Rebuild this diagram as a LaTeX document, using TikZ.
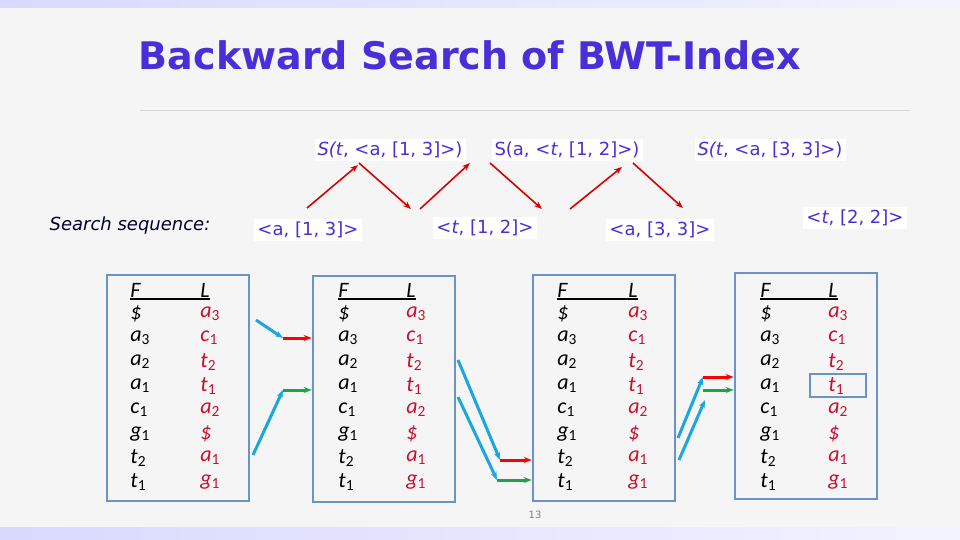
\documentclass[tikz,border=0pt]{standalone}
\usepackage{fontspec}
\setmainfont{Carlito}
\setsansfont{DejaVu Sans}
\usetikzlibrary{arrows.meta,positioning}
\definecolor{titlepurple}{HTML}{4A2FD8}
\definecolor{boxblue}{HTML}{6A93C9}
\definecolor{arrcyan}{HTML}{1AA6E0}
\definecolor{arrgreen}{HTML}{1FA34A}
\definecolor{lred}{HTML}{C8102E}
\newcommand\sym[2]{\textit{#1}\textsubscript{#2}}
\begin{document}
\begin{tikzpicture}[x=0.5pt,y=-0.5pt,>={Stealth[length=4pt]},
    tbl/.style={draw=boxblue,line width=1.3pt,minimum width=71pt,minimum height=113pt},
    ent/.style={font=\fontsize{11}{11}\selectfont,inner sep=0pt},
    lab/.style={fill=white,text=titlepurple,font=\sffamily\fontsize{9}{9}\selectfont,inner sep=1.5pt},
    step arrow/.style={->,draw=red!85!black,line width=0.8pt},
    link/.style={->,line width=1.5pt}]
  \useasboundingbox (0,0) rectangle (960,540);
  \fill[gray!8] (0,0) rectangle (960,540);
  \fill[left color=blue!15,right color=blue!5] (0,0) rectangle (960,8);
  \fill[left color=blue!15,right color=blue!5] (0,527) rectangle (960,540);
  \node[text=titlepurple,font=\sffamily\bfseries\fontsize{19}{20}\selectfont] (title) at (470,55) {Backward Search of BWT-Index};
  \draw[gray!30] (140,110) -- (910,110);
  % search steps
  \node[lab] (s1) at (390,150) {\textit{S(t}, <a, [1, 3]>)};
  \node[lab] (s2) at (567,150) {S(a, <\textit{t}, [1, 2]>)};
  \node[lab] (s3) at (770,150) {\textit{S(t}, <a, [3, 3]>)};
  \node[lab,text=black!80!blue,fill=none] (seq) at (130,226) {\textit{Search sequence:}};
  \node[lab] (i1) at (308,230) {<a, [1, 3]>};
  \node[lab] (i2) at (485,228) {<\textit{t}, [1, 2]>};
  \node[lab] (i3) at (660,230) {<a, [3, 3]>};
  \node[lab] (i4) at (855,218) {<\textit{t}, [2, 2]>};
  \draw[step arrow] (307,208) -- (358,165);
  \draw[step arrow] (359,163) -- (411,209);
  \draw[step arrow] (420,209) -- (470,163);
  \draw[step arrow] (490,163) -- (542,209);
  \draw[step arrow] (570,209) -- (622,167);
  \draw[step arrow] (633,163) -- (683,208);
  % tables
  \foreach \n/\bx/\by/\fx/\lx in {1/178/388/130/200, 2/384/389/338/406, 3/604/388/557/628, 4/806/386/760/828}{
    \node[tbl] (box\n) at (\bx,\by) {};
    \node[ent,anchor=west] (F\n) at (\fx,290) {\textit{F}};
    \node[ent,anchor=west] (L\n) at (\lx,290) {\textit{L}};
    \draw[line width=1pt] (\fx,299) -- (\lx+10,299);
    \foreach \fa/\fb/\la/\lb [count=\r] in {\$//a/3,a/3/c/1,a/2/t/2,a/1/t/1,c/1/a/2,g/1/\$/,t/2/a/1,t/1/g/1}{
      \node[ent,anchor=west] (f\n\r) at (\fx,290+24*\r) {\sym{\fa}{\fb}};
      \node[ent,anchor=west,text=lred] (l\n\r) at (\lx,290+24*\r) {\sym{\la}{\lb}};
    }
  }
  \draw[boxblue,line width=1.3pt] (810,374) rectangle (866,397);
  % links between tables
  \coordinate (a1) at (256,320); \coordinate (a2) at (283,338);
  \coordinate (b1) at (253,455); \coordinate (b2) at (283,390);
  \draw[link,arrcyan] (a1) -- (a2);
  \draw[link,red] (a2) -- (box2.west |- a2);
  \draw[link,arrcyan] (b1) -- (b2);
  \draw[link,arrgreen] (b2) -- (box2.west |- b2);
  \coordinate (c1) at (458,360); \coordinate (c2) at (500,460);
  \coordinate (d1) at (458,397); \coordinate (d2) at (497,480);
  \draw[link,arrcyan] (c1) -- (c2);
  \draw[link,red] (c2) -- (box3.west |- c2);
  \draw[link,arrcyan] (d1) -- (d2);
  \draw[link,arrgreen] (d2) -- (box3.west |- d2);
  \coordinate (e1) at (678,438); \coordinate (e2) at (703,377);
  \coordinate (g1) at (679,460); \coordinate (g2) at (705,400);
  \coordinate (g3) at (703,390);
  \draw[link,arrcyan] (e1) -- (e2);
  \draw[link,red] (e2) -- (box4.west |- e2);
  \draw[link,arrcyan] (g1) -- (g2);
  \draw[link,arrgreen] (g3) -- (box4.west |- g3);
  \node[font=\sffamily\fontsize{5}{5}\selectfont,text=gray] (page) at (535,515) {13};
\end{tikzpicture}
\end{document}
